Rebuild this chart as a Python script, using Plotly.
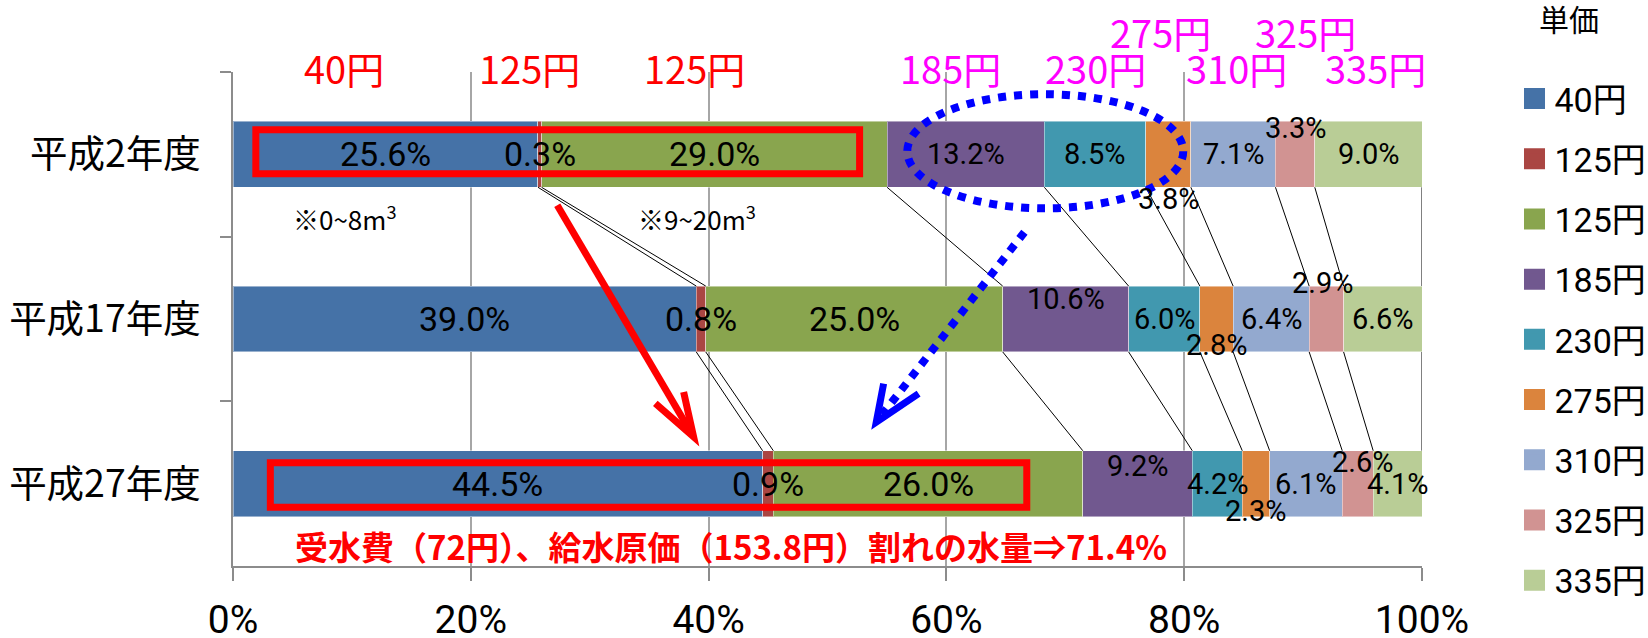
import plotly.graph_objects as go

# ---------------- data ----------------
categories = ["平成2年度", "平成17年度", "平成27年度"]
series_names = ["40円", "125円", "125円", "185円", "230円", "275円", "310円", "325円", "335円"]
series_colors = ["#4572A7", "#AA4643", "#89A54E", "#71588F", "#4198AF",
                 "#DB843D", "#93A9CF", "#D19392", "#B9CD96"]
share_h02 = [25.6, 0.3, 29.0, 13.2, 8.5, 3.8, 7.1, 3.3, 9.0]
share_h17 = [39.0, 0.8, 25.0, 10.6, 6.0, 2.8, 6.4, 2.9, 6.6]
share_h27 = [44.5, 0.9, 26.0, 9.2, 4.2, 2.3, 6.1, 2.6, 4.1]
x_ticks = [0, 20, 40, 60, 80, 100]
x_tick_text = ["0%", "20%", "40%", "60%", "80%", "100%"]

price_labels_red = ["40円", "125円", "125円"]
price_labels_pink_low = ["185円", "230円", "310円", "335円"]
price_labels_pink_high = ["275円", "325円"]
range_notes = ["※0~8m<sup>3</sup>", "※9~20m<sup>3</sup>"]
bottom_note = "<b>受水費（72円）、給水原価（153.8円）割れの水量⇒71.4%</b>"
legend_title = "単価"

rows = [share_h02, share_h17, share_h27]

# ---------------- style / layout constants ----------------
NUM_FONT = "Roboto, 'Noto Sans CJK JP', sans-serif"
JP_FONT = "'Noto Sans CJK JP', sans-serif"
BAR_WIDTH = 0.4            # in category units (bargap 0.6)
HALF = BAR_WIDTH / 2

# per-label offsets (row, series) -> (xshift px, yshift px; + is up)
label_shift = {
    (0, 5): (0, -45), (0, 7): (0, 26),
    (1, 3): (0, 20), (1, 5): (0, -26), (1, 7): (-4, 36),
    (2, 3): (0, 18), (2, 5): (0, -27), (2, 7): (5, 22),
}

fig = go.Figure()

for j, name in enumerate(series_names):
    fig.add_trace(go.Bar(
        y=categories, x=[r[j] for r in rows], orientation="h", name=name,
        marker=dict(color=series_colors[j], line=dict(width=1, color="rgba(255,255,255,0.45)")),
        showlegend=False, hoverinfo="skip",
    ))
    # legend entry
    fig.add_trace(go.Scatter(
        x=[None], y=[None], mode="markers", name=name, legendgroup=f"g{j}",
        marker=dict(symbol="square", size=16, color=series_colors[j],
                    line=dict(width=5, color=series_colors[j])),
        showlegend=True,
    ))

# cumulative (normalised, as in a 100% stacked bar)
cums = []
for r in rows:
    tot = sum(r)
    c, acc = [], 0.0
    for v in r:
        acc += v / tot * 100
        c.append(acc)
    cums.append(c)

annotations = []
# value labels
for i, r in enumerate(rows):
    for j, v in enumerate(r):
        start = cums[i][j - 1] if j > 0 else 0.0
        mid = (start + cums[i][j]) / 2
        dx, dy = label_shift.get((i, j), (0, 0))
        annotations.append(dict(
            x=mid, y=categories[i], xref="x", yref="y", text=f"{v:.1f}%",
            showarrow=False, xshift=dx, yshift=dy,
            font=dict(family=NUM_FONT, size=34 if j < 3 else 29, color="black"),
        ))

# series lines between bars
shapes = []
for i in range(len(rows) - 1):
    for j in range(len(series_names)):
        shapes.append(dict(
            type="line", xref="x", yref="y",
            x0=cums[i][j], y0=i + HALF, x1=cums[i + 1][j], y1=i + 1 - HALF,
            line=dict(color="black", width=1), layer="above",
        ))

# price headings above the plot (paper y)
head = dict(xref="x", yref="paper", showarrow=False, xanchor="center", yanchor="middle")
for t, xp in zip(price_labels_red, [9.36, 24.93, 38.79]):
    annotations.append(dict(head, x=xp, y=1.0101, text=t,
                            font=dict(family=JP_FONT, size=38, color="#FF0000")))
for t, xp in zip(price_labels_pink_low, [60.37, 72.5, 84.38, 96.07]):
    annotations.append(dict(head, x=xp, y=1.0101, text=t,
                            font=dict(family=JP_FONT, size=38, color="#FF00FF")))
for t, xp in zip(price_labels_pink_high, [78.04, 90.18]):
    annotations.append(dict(head, x=xp, y=1.081, text=t,
                            font=dict(family=JP_FONT, size=38, color="#FF00FF")))
for t, xp in zip(range_notes, [9.39, 39.02]):
    annotations.append(dict(x=xp, y=0.382, xref="x", yref="y", text=t, showarrow=False,
                            font=dict(family=JP_FONT, size=26, color="black")))
annotations.append(dict(x=41.87, y=2.38, xref="x", yref="y", text=bottom_note, showarrow=False,
                        font=dict(family=JP_FONT, size=33, color="#FF0000")))

# decorations: red frames, arrows, blue dotted ellipse/arrow
red = "#FF0000"
blue = "#0000FF"
shapes += [
    dict(type="rect", xref="x", yref="y", x0=1.92, x1=52.7, y0=-0.149, y1=0.118,
         line=dict(color=red, width=7), layer="above"),
    dict(type="rect", xref="x", yref="y", x0=3.14, x1=66.76, y0=1.873, y1=2.143,
         line=dict(color=red, width=7), layer="above"),
    dict(type="line", xref="x", yref="y", x0=27.27, y0=0.309, x1=38.6, y1=1.70,
         line=dict(color=red, width=7), layer="above"),
    dict(type="path", xref="x", yref="y", path="M35.52,1.513 L38.74,1.716 L37.9,1.443",
         line=dict(color=red, width=7), layer="above"),
    dict(type="circle", xref="x", yref="y", x0=56.71, x1=79.92, y0=-0.365, y1=0.328,
         line=dict(color=blue, width=8, dash="dot"), layer="above"),
    dict(type="line", xref="x", yref="y", x0=66.56, y0=0.473, x1=54.6, y1=1.58,
         line=dict(color=blue, width=8, dash="dot"), layer="above"),
    dict(type="path", xref="x", yref="y", path="M54.72,1.392 L54.1,1.627 L57.66,1.453",
         line=dict(color=blue, width=7), layer="above"),
]

fig.update_layout(
    width=1648, height=638,
    barmode="stack", barnorm="percent", bargap=0.6,
    plot_bgcolor="white", paper_bgcolor="white",
    margin=dict(l=233, r=226, t=72, b=72, autoexpand=False),
    xaxis=dict(
        range=[0, 100], tickmode="array", tickvals=x_ticks, ticktext=x_tick_text,
        showgrid=True, gridcolor="#A6A6A6", gridwidth=1.5,
        showline=True, linecolor="#8C8C8C", linewidth=1.5,
        ticks="outside", ticklen=13, tickcolor="#8C8C8C", tickwidth=1.5,
        zeroline=False, ticklabelstandoff=5,
        tickfont=dict(family=NUM_FONT, size=39, color="black"),
    ),
    yaxis=dict(
        type="category", categoryorder="array", categoryarray=categories,
        range=[2.5, -0.5], autorange=False,
        showgrid=False, showline=True, linecolor="#8C8C8C", linewidth=1.5,
        ticks="outside", ticklen=11, tickcolor="#8C8C8C", tickwidth=1.5,
        tickson="boundaries", ticklabelstandoff=23,
        tickfont=dict(family=JP_FONT, size=37.5, color="black"),
    ),
    legend=dict(
        title=dict(text="\u2002\u2005" + legend_title + "<br>&nbsp;",
                   font=dict(family=JP_FONT, size=30, color="black")),
        x=1.0778, xanchor="left", y=1.162, yanchor="top",
        font=dict(family=NUM_FONT, size=34, color="black"),
        traceorder="grouped", tracegroupgap=13, bgcolor="rgba(0,0,0,0)",
        maxheight=640,
    ),
    annotations=annotations,
    shapes=shapes,
    showlegend=True,
)

fig.write_html("out.html", config={"displayModeBar": False},
               post_script="document.body.style.margin='0';")
